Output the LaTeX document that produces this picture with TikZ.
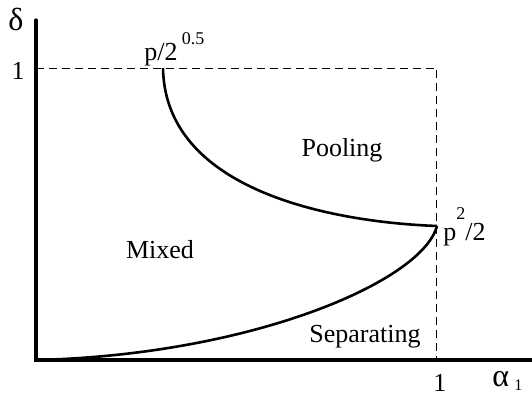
\documentclass[tikz,border=0pt]{standalone}
\usepackage{fontspec}
\setmainfont{Liberation Serif}
\tikzset{%
  axis/.style={line width=1.6pt,line cap=round},
  border/.style={dashed,dash pattern=on 4pt off 2.5pt,line width=0.5pt},
  bound/.style={line width=1.3pt,draw=#1},
  bound/.default=black,
  lbl/.style={inner sep=0pt,font=\fontsize{13}{15}\selectfont},
  greek/.style={inner sep=0pt,font=\fontsize{16}{18}\selectfont}
}
\begin{document}
\begin{tikzpicture}[x=0.5pt,y=-0.5pt]

    \useasboundingbox (0,0) rectangle (532,397);

    % corners of the unit square
    \coordinate (o) at (36,360);
    \coordinate (ytop) at (36,20);
    \coordinate (xend) at (532,360);
    \coordinate (d1) at (36,68);
    \coordinate (c11) at (437,68);
    \coordinate (a1) at (437,360);

    % where the two boundaries meet
    \coordinate (q) at (437,226);
    \coordinate (s) at (163,68);

    % dashed box
    \draw[border] (d1) -- (c11) -- (a1);

    % boundaries between regions
    \draw[bound] (s) .. controls (165,190) and (330,222) .. (q);
    \draw[bound] (o) .. controls (250,355) and (422,282) .. (q);

    % axes
    \draw[axis] (ytop) -- (o) -- (xend);

    % labels
    \node[greek] (delta) at (16,19) {δ};
    \node[lbl] (one y) at (18,71) {1};
    \node[lbl, anchor=base west] (sq) at (144,60) {p/2\raisebox{1.3ex}{\,\small 0.5}};
    \node[lbl] (pool) at (342,150) {Pooling};
    \node[lbl] (mix) at (160,250) {Mixed};
    \node[lbl] (sep) at (365,337) {Separating};
    \node[lbl, anchor=base west] (pp) at (443,240) {p\raisebox{1.7ex}{\small 2}/2};
    \node[lbl] (one x) at (440,383) {1};
    \node[greek, anchor=base west] (alpha) at (492,386) {α\raisebox{-0.3ex}{\,\footnotesize 1}};

\end{tikzpicture}
\end{document}
